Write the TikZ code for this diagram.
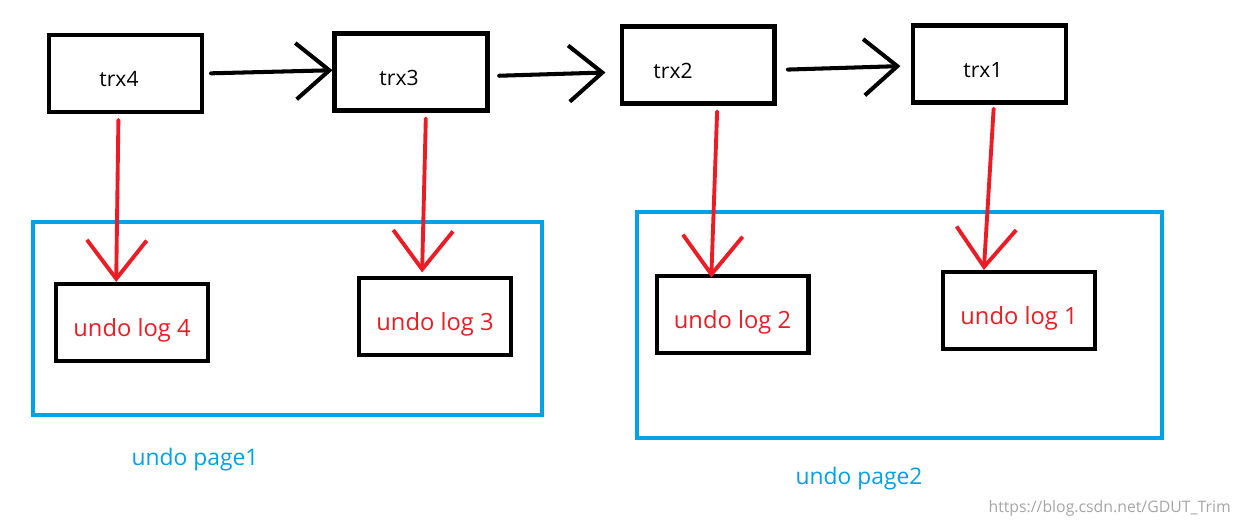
\documentclass[tikz,border=0pt]{standalone}
\usepackage{fontspec}
\setmainfont{Open Sans}
\usepackage{xcolor}
\usepackage{tikz}
\usetikzlibrary{arrows.meta}
\definecolor{penred}{RGB}{237,28,36}
\definecolor{penblue}{RGB}{0,162,232}
\tikzstyle{trxbox}=[draw=black,rectangle,line width=2.3pt,minimum width=3.06cm,minimum height=1.54cm,inner sep=0pt,text height=15pt,text depth=0pt,font=\fontsize{12}{14}\selectfont]
\tikzstyle{logbox}=[draw=black,rectangle,line width=2.3pt,minimum width=3.04cm,minimum height=1.54cm,inner sep=0pt,text height=18pt,text depth=2pt,text=penred,font=\fontsize{13.5}{15}\selectfont]
\tikzstyle{pagebox}=[draw=penblue,rectangle,line width=2.3pt,inner sep=0pt]
\tikzstyle{pagelabel}=[text=penblue,font=\fontsize{13}{15}\selectfont]
\tikzstyle{nextptr}=[draw=black,line width=2.3pt,line cap=round,-{Straight Barb[length=19pt,width=32pt]}]
\tikzstyle{undoptr}=[draw=penred,line width=2.2pt,line cap=round,-{Straight Barb[length=22pt,width=34pt]}]

\begin{document}
\begin{tikzpicture}[x=0.02cm,y=-0.02cm]
\useasboundingbox (0,0) rectangle (1237,524);
\node[pagebox,minimum width=10.18cm,minimum height=3.86cm] (page1) at (287.5,318.5) {};
\node[pagebox,minimum width=10.5cm,minimum height=4.52cm] (page2) at (899.5,325) {};
\node[pagelabel] (label1) at (195,460) {undo page1};
\node[pagelabel] (label2) at (859,479) {undo page2};
\node[trxbox] (trx4) at (125.5,73.5) {\hspace*{-7.4pt}trx4};
\node[trxbox] (trx3) at (411,72) {\hspace*{-13.6pt}trx3};
\node[trxbox] (trx2) at (698,65) {\hspace*{-28.4pt}trx2};
\node[trxbox] (trx1) at (989.5,64) {\hspace*{-7.4pt}trx1};
\node[logbox] (log4) at (132,322.5) {undo log 4};
\node[logbox] (log3) at (435,316.5) {undo log 3};
\node[logbox] (log2) at (732.5,314.5) {undo log 2};
\node[logbox] (log1) at (1019,310.5) {undo log 1};
\node[text=black!35,font=\fontsize{9}{10}\selectfont,anchor=east] (mark) at (1237,508) {https://blog.csdn.net/GDUT\_Trim};
\draw[nextptr,shorten <=4pt] (trx4.east) -- ([yshift=1pt]trx3.west);
\draw[nextptr,shorten <=5.5pt,shorten >=8pt] ([yshift=-2.3pt]trx3.east) -- ([yshift=-4pt]trx2.west);
\draw[nextptr,shorten <=6.5pt,shorten >=6pt] ([yshift=-2.8pt]trx2.east) -- ([yshift=-1pt]trx1.west);
\draw[undoptr,shorten <=3.4pt] ([xshift=-4pt]trx4.south) -- ([xshift=-9pt]log4.north);
\draw[undoptr,shorten <=3.4pt,shorten >=2pt] ([xshift=8.5pt]trx3.south) -- ([xshift=-7.4pt]log3.north);
\draw[undoptr,shorten <=3.4pt,shorten >=-2pt] ([xshift=11pt]trx2.south) -- ([xshift=-12pt]log2.north);
\draw[undoptr,shorten <=2.4pt] ([xshift=2.5pt]trx1.south) -- ([xshift=-20pt]log1.north);
\end{tikzpicture}
\end{document}
